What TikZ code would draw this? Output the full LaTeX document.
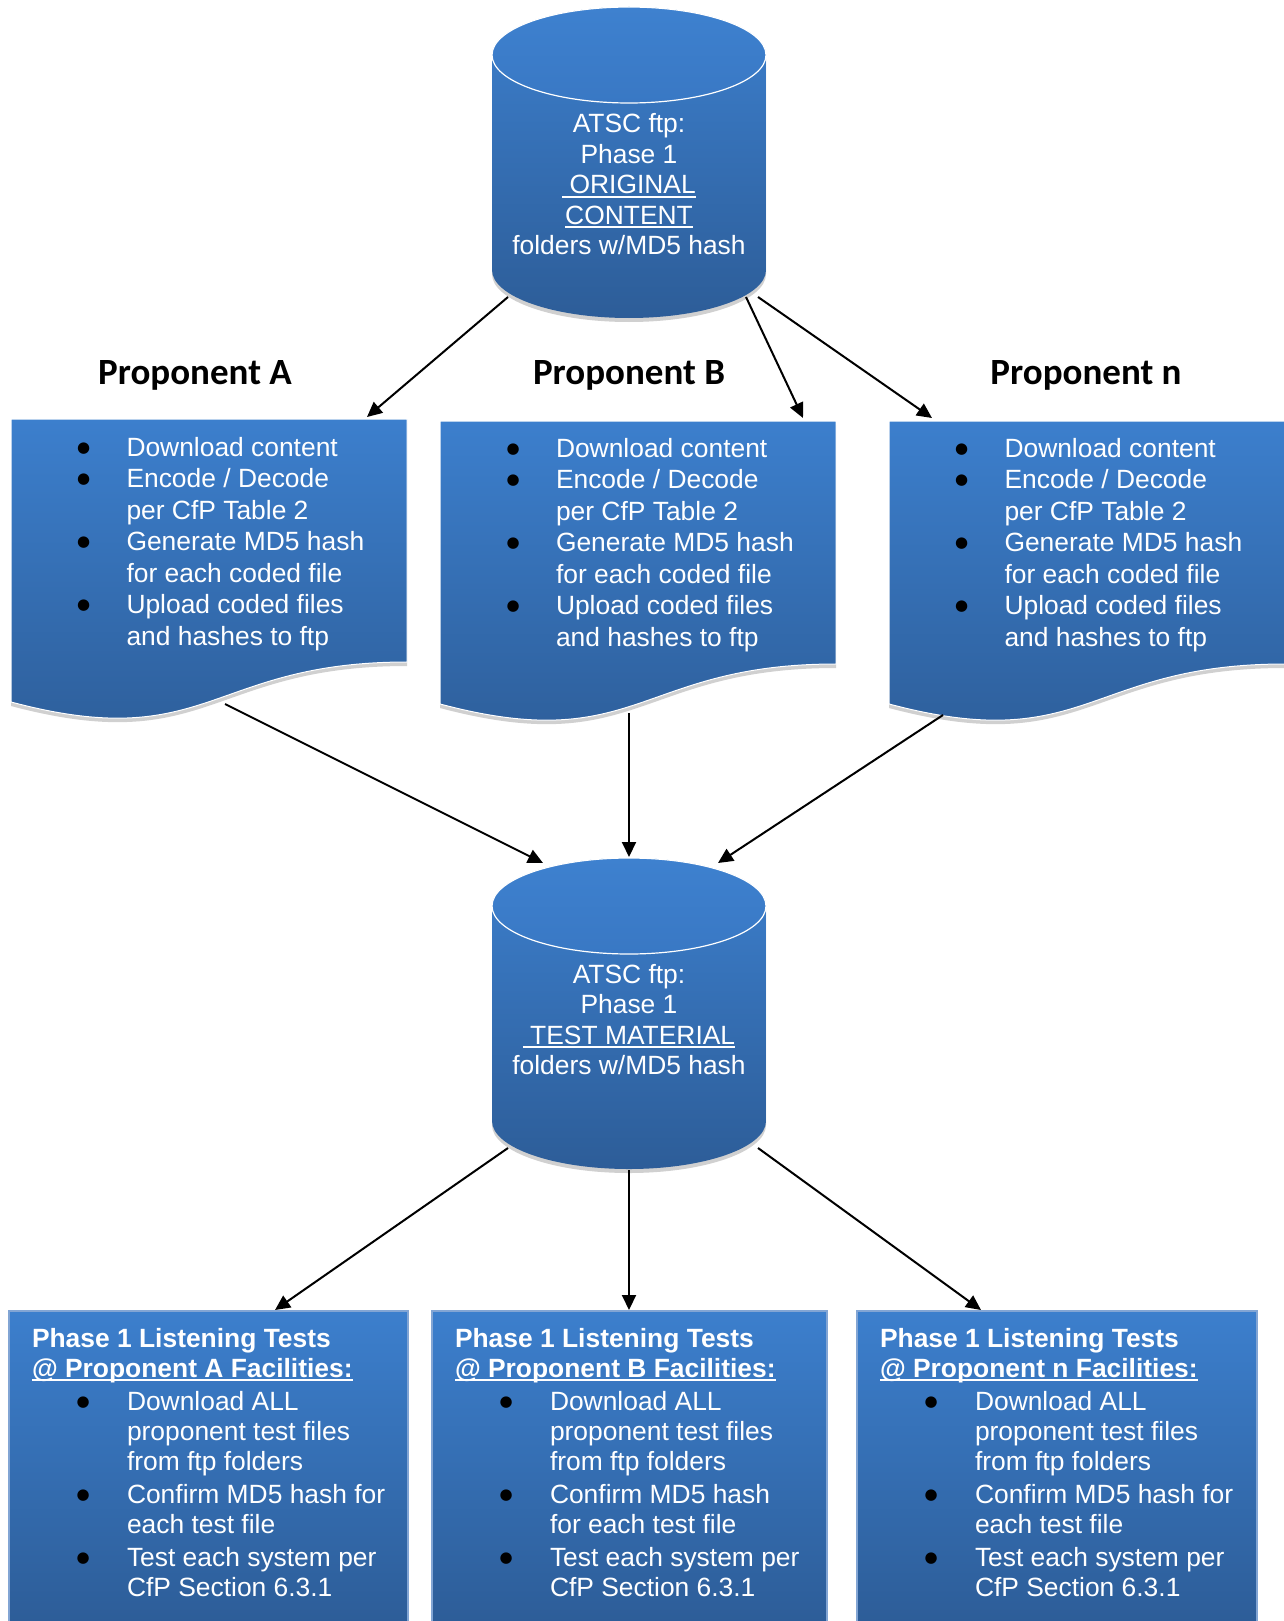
\documentclass[tikz,border=0pt]{standalone}
\usepackage{fontspec}
\setmainfont{Liberation Sans}
\newfontfamily\titlefont{Carlito}
\newfontfamily\symfont{DejaVu Sans}
\usetikzlibrary{arrows.meta}
\definecolor{blueTop}{RGB}{60,127,205}
\definecolor{blueBot}{RGB}{45,93,152}
\definecolor{lidTop}{RGB}{62,129,207}
\definecolor{lidBot}{RGB}{57,120,196}
\definecolor{shadowgray}{RGB}{208,208,208}
\definecolor{boxedge}{RGB}{130,165,212}
\newcommand\myul[1]{\setbox0=\hbox{#1}\rlap{\rule[-4pt]{\wd0}{2pt}}\box0}
\newcommand\bl{\leavevmode\raisebox{4pt}{\color{black}\symfont\fontsize{15}{15}\selectfont ●}}
\tikzset{
  arr/.style={line width=2pt, -{Triangle[length=15pt,width=14pt]}},
  body/.style={font=\fontsize{26.4}{31.5}\selectfont, text=white, inner sep=0pt, outer sep=0pt},
  ttl/.style={font=\titlefont\bfseries\fontsize{37}{42}\selectfont, inner sep=0pt},
  pics/cyl/.style={code={
    \fill[shadowgray] (-137,4) -- (-137,219) arc[start angle=180,end angle=360,x radius=137pt,y radius=48pt] -- (137,4) -- cycle;
    \path[top color=blueTop,bottom color=blueBot] (-137,0) -- (-137,215) arc[start angle=180,end angle=360,x radius=137pt,y radius=48pt] -- (137,0) arc[start angle=0,end angle=180,x radius=137pt,y radius=48pt] -- cycle;
    \path[top color=lidTop,bottom color=lidBot,draw=white,line width=1.2pt] (0,0) ellipse[x radius=137pt,y radius=48pt];
    \coordinate (-sw) at (-121,242);
    \coordinate (-se) at (117,242);
    \coordinate (-se2) at (129,242);
    \coordinate (-s) at (0,264);
    \coordinate (-nw) at (-86,-43);
    \coordinate (-n) at (0,-49);
    \coordinate (-ne) at (89,-43);
  }},
  pics/docshape/.style={code={
    \fill[shadowgray] (0,4) -- (396,4) -- (396,247) .. controls (198,247) and (198,339.6) .. (0,287) -- cycle;
    \path[top color=blueTop,bottom color=blueBot,draw=white,line width=1pt] (0,0) -- (396,0) -- (396,243) .. controls (198,243) and (198,335.6) .. (0,283) -- cycle;
  }},
  pics/rbox/.style={code={
    \path[top color=blueTop,bottom color=blueBot] (0,0) rectangle (#1,312);
    \draw[boxedge,line width=1.2pt] (0,314) -- (0,0) -- (#1,0) -- (#1,314);
  }}
}
\begin{document}
\begin{tikzpicture}[x=1pt,y=-1pt]
\useasboundingbox (0,0) rectangle (1283,1621);
\fill[white] (0,0) rectangle (1283,1621);

% cylinders
\pic (ct) at (629,55) {cyl};
\pic (cb) at (629,906) {cyl};

\node[body, anchor=base] (ctText) at (629,133) {\begin{tabular}[t]{@{}c@{}}
ATSC ftp:\\[-1pt]
Phase 1\\[-1pt]
\myul{\ ORIGINAL}\\[-1pt]
\myul{CONTENT}\\[-1pt]
folders w/MD5 hash
\end{tabular}};

\node[body, anchor=base] (cbText) at (629,983) {\begin{tabular}[t]{@{}c@{}}
ATSC ftp:\\[-1pt]
Phase 1\\[-1pt]
\myul{\ TEST MATERIAL}\\[-1pt]
folders w/MD5 hash
\end{tabular}};

% titles
\node[ttl, anchor=base] (tA) at (195,384) {Proponent A};
\node[ttl, anchor=base] (tB) at (629,384) {Proponent B};
\node[ttl, anchor=base] (tN) at (1086,384) {Proponent n};

% document shapes
\pic (dA) at (11,419) {docshape};
\pic (dB) at (440,421) {docshape};
\pic (dN) at (889,421) {docshape};

\node[body, anchor=base west] (dAText) at (77,456) {\begin{tabular}[t]{@{}p{49.5pt}@{}l@{}}
\bl & Download content\\
\bl & Encode / Decode\\
 & per CfP Table 2\\
\bl & Generate MD5 hash\\
 & for each coded file\\
\bl & Upload coded files\\
 & and hashes to ftp
\end{tabular}};
\node[body, anchor=base west] (dBText) at (506.5,457) {\begin{tabular}[t]{@{}p{49.5pt}@{}l@{}}
\bl & Download content\\
\bl & Encode / Decode\\
 & per CfP Table 2\\
\bl & Generate MD5 hash\\
 & for each coded file\\
\bl & Upload coded files\\
 & and hashes to ftp
\end{tabular}};
\node[body, anchor=base west] (dNText) at (955,457) {\begin{tabular}[t]{@{}p{49.5pt}@{}l@{}}
\bl & Download content\\
\bl & Encode / Decode\\
 & per CfP Table 2\\
\bl & Generate MD5 hash\\
 & for each coded file\\
\bl & Upload coded files\\
 & and hashes to ftp
\end{tabular}};

% bottom boxes
\pic (bA) at (9,1311) {rbox=399};
\pic (bB) at (432,1311) {rbox=395};
\pic (bN) at (857,1311) {rbox=400};

\node[body, anchor=base west] (bAText) at (32,1347) {\fontsize{26.4}{30}\selectfont\begin{tabular}[t]{@{}p{95pt}@{}l@{}}
\multicolumn{2}{@{}l@{}}{\bfseries Phase 1 Listening Tests}\\
\multicolumn{2}{@{}l@{}}{\bfseries\myul{@ Proponent A Facilities:}}\\[3pt]
\hspace*{44.5pt}\bl & Download ALL\\
 & proponent test files\\
 & from ftp folders\\[3pt]
\hspace*{44.5pt}\bl & Confirm MD5 hash for\\
 & each test file\\[3pt]
\hspace*{44.5pt}\bl & Test each system per\\
 & CfP Section 6.3.1
\end{tabular}};
\node[body, anchor=base west] (bBText) at (455,1347) {\fontsize{26.4}{30}\selectfont\begin{tabular}[t]{@{}p{95pt}@{}l@{}}
\multicolumn{2}{@{}l@{}}{\bfseries Phase 1 Listening Tests}\\
\multicolumn{2}{@{}l@{}}{\bfseries\myul{@ Proponent B Facilities:}}\\[3pt]
\hspace*{44.5pt}\bl & Download ALL\\
 & proponent test files\\
 & from ftp folders\\[3pt]
\hspace*{44.5pt}\bl & Confirm MD5 hash\\
 & for each test file\\[3pt]
\hspace*{44.5pt}\bl & Test each system per\\
 & CfP Section 6.3.1
\end{tabular}};
\node[body, anchor=base west] (bNText) at (880,1347) {\fontsize{26.4}{30}\selectfont\begin{tabular}[t]{@{}p{95pt}@{}l@{}}
\multicolumn{2}{@{}l@{}}{\bfseries Phase 1 Listening Tests}\\
\multicolumn{2}{@{}l@{}}{\bfseries\myul{@ Proponent n Facilities:}}\\[3pt]
\hspace*{44.5pt}\bl & Download ALL\\
 & proponent test files\\
 & from ftp folders\\[3pt]
\hspace*{44.5pt}\bl & Confirm MD5 hash for\\
 & each test file\\[3pt]
\hspace*{44.5pt}\bl & Test each system per\\
 & CfP Section 6.3.1
\end{tabular}};

% connector end points on the shapes
\coordinate (dA-in) at (367,417);
\coordinate (dB-in) at (803,418);
\coordinate (dN-in) at (932,418);
\coordinate (dA-out) at (225,704);
\coordinate (dB-out) at (629,713);
\coordinate (dN-out) at (943,715);
\coordinate (bA-in) at (275,1310);
\coordinate (bB-in) at (629,1310);
\coordinate (bN-in) at (981,1310);

% connectors
\draw[arr] (ct-sw) -- (dA-in);
\draw[arr] (ct-se) -- (dB-in);
\draw[arr] (ct-se2) -- (dN-in);
\draw[arr] (dA-out) -- (cb-nw);
\draw[arr] (dB-out) -- (cb-n);
\draw[arr] (dN-out) -- (cb-ne);
\draw[arr] (cb-sw) -- (bA-in);
\draw[arr] (cb-s) -- (bB-in);
\draw[arr] (cb-se2) -- (bN-in);
\end{tikzpicture}
\end{document}
